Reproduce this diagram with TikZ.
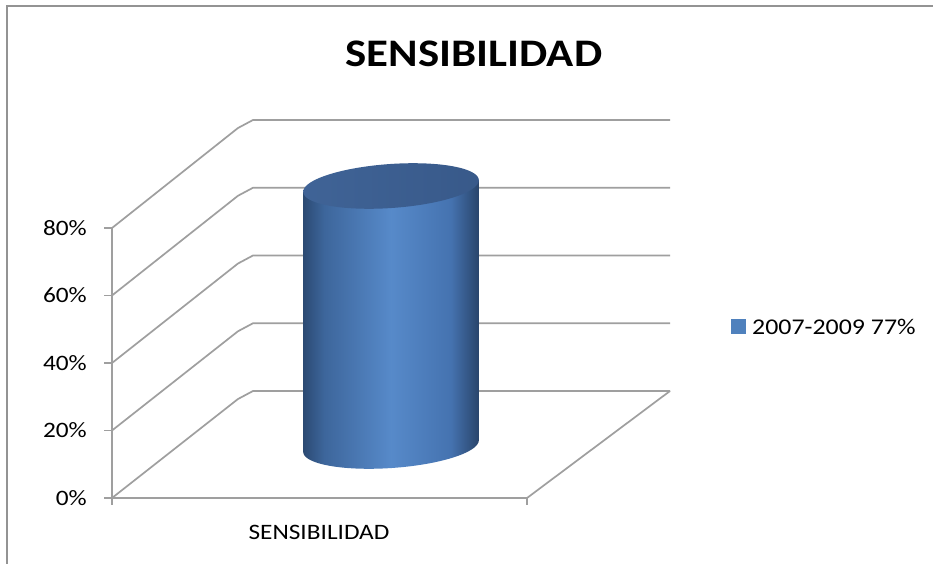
\documentclass[tikz,border=0pt]{standalone}
\usepackage{fontspec}
\setmainfont{Carlito}[FakeStretch=1.15]
\pgfdeclarehorizontalshading{cylside}{100bp}{rgb(0bp)=(0.17,0.29,0.45); rgb(25bp)=(0.17,0.29,0.45); rgb(31bp)=(0.24,0.40,0.61); rgb(50bp)=(0.34,0.54,0.79); rgb(67bp)=(0.27,0.45,0.69); rgb(75bp)=(0.16,0.27,0.42); rgb(100bp)=(0.16,0.27,0.42)}
\pgfdeclarehorizontalshading{cyltop}{100bp}{rgb(0bp)=(0.25,0.39,0.59); rgb(25bp)=(0.25,0.39,0.59); rgb(75bp)=(0.22,0.35,0.54); rgb(100bp)=(0.22,0.35,0.54)}
\definecolor{legblue}{RGB}{79,129,189}
\begin{document}
\begin{tikzpicture}[x=1pt,y=-1pt,
  grid/.style={draw=gray!75, line width=1.7pt},
  lbl/.style={font=\fontsize{22}{26}\selectfont, inner sep=0pt}]
\useasboundingbox (0,0) rectangle (933,564);
\fill[white] (0,0) rectangle (933,564);
\draw[draw=gray!85, line width=2pt] (7,564) -- (7,6) -- (933,6);
% title
\node[font=\bfseries\fontsize{39}{44}\selectfont, anchor=base, inner sep=0pt] (title) at (474,67) {SENSIBILIDAD};
% walls and grid
\foreach \i/\t in {0/0,1/20,2/40,3/60,4/80}{
  \coordinate (f\i) at (112,498-67.5*\i);
  \coordinate (k\i) at (238,399-67.75*\i);
  \coordinate (b\i) at (253,391-67.75*\i);
  \coordinate (e\i) at (670,391-67.75*\i);
  \draw[grid] (f\i) -- (k\i) -- (b\i) -- (e\i);
  \draw[grid] (f\i) -- ++(-8,0);
  \node[lbl, anchor=base east] (l\i) at (87,505-67.5*\i) {\t\%};
}
\coordinate (axb) at (112,505);
\coordinate (fr) at (527,498);
\coordinate (frt) at (527,505);
\draw[grid] (f4) -- (axb);
\draw[grid] (f0) -- (fr) -- (e0);
\draw[grid] (fr) -- (frt);
% cylinder side
\shade[shading=cylside] (303.2,186+6.1) -- plot[domain=0:180, samples=73]
  ({391 - 88*cos(\x)*cos(4) + 22*sin(\x)*sin(4)}, {446 + 88*cos(\x)*sin(4) + 22*sin(\x)*cos(4)})
  -- (478.8,186-6.1) -- cycle;
% cylinder top
\shade[shading=cyltop] plot[domain=0:360, samples=121]
  ({391 - 88*cos(\x)*cos(4) + 22*sin(\x)*sin(4)}, {186 + 88*cos(\x)*sin(4) + 22*sin(\x)*cos(4)}) -- cycle;
% category label
\node[lbl, anchor=base] (cat) at (319,539) {SENSIBILIDAD};
% legend
\fill[legblue] (731,319) rectangle (746,334);
\node[anchor=base west, inner sep=0pt, font=\fontsize{22.5}{26}\selectfont] (leg) at (752,334) {2007-2009 77\%};
\end{tikzpicture}
\end{document}
